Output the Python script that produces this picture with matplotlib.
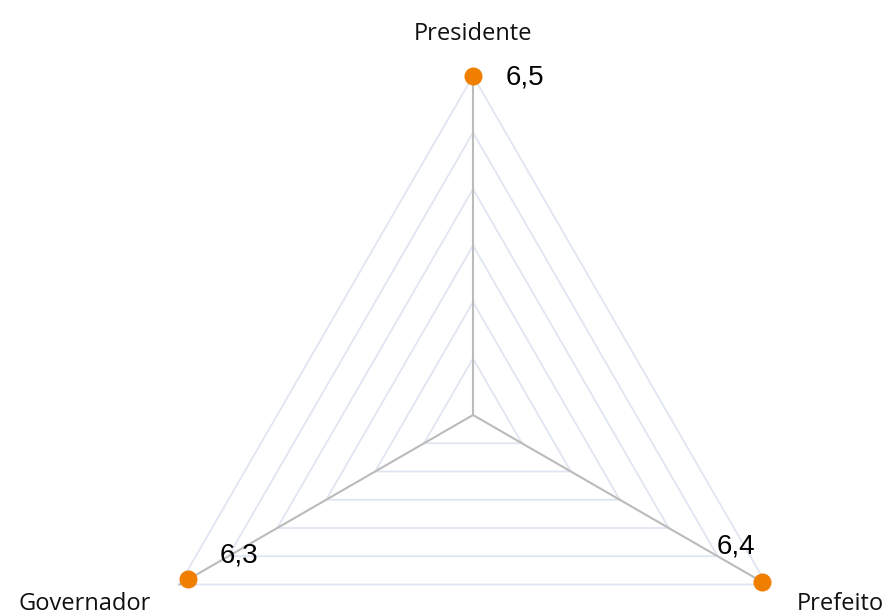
import numpy as np
import matplotlib
matplotlib.use('Agg')
import matplotlib.pyplot as plt

# data
categories = ['Presidente', 'Prefeito', 'Governador']
values = [6.5, 6.4, 6.3]
value_labels = ['6,5', '6,4', '6,3']
max_value = 6.5
n_rings = 6

angles = np.deg2rad([90, -30, 210])

W, H = 885, 611
cx, cy = 473, 415          # centre in pixels
R = 339                    # outer radius in pixels
ppu = R / max_value        # pixels per value unit

fig = plt.figure(figsize=(W / 100, H / 100), dpi=100)
ax = fig.add_axes([0, 0, 1, 1])
ax.set_xlim(-cx / ppu, (W - cx) / ppu)
ax.set_ylim(-(H - cy) / ppu, cy / ppu)
ax.set_axis_off()

grid_color = '#e0e6f1'
axis_color = '#bbbbbb'
orange = '#f07f00'

# polygon rings
for k in range(1, n_rings + 1):
    r = max_value * k / n_rings
    xs = r * np.cos(np.append(angles, angles[0]))
    ys = r * np.sin(np.append(angles, angles[0]))
    ax.plot(xs, ys, color=grid_color, lw=1.3, zorder=1)

# spokes
for a in angles:
    ax.plot([0, max_value * np.cos(a)], [0, max_value * np.sin(a)],
            color=axis_color, lw=1.5, zorder=2)

# points
px = np.array(values) * np.cos(angles)
py = np.array(values) * np.sin(angles)
ax.plot(px, py, 'o', color=orange, markersize=13, markeredgewidth=0, zorder=4)

# category names (offsets in pixels -> points)
cat_offsets = [(0, 42, 'center'), (30, -19, 'left'), (-29, -19, 'right')]
for name, a, (dx, dy, ha) in zip(categories, angles, cat_offsets):
    ax.annotate(name, (max_value * np.cos(a), max_value * np.sin(a)),
                xytext=(dx * 0.72, dy * 0.72), textcoords='offset points',
                ha=ha, va='center', fontsize=17, family='Open Sans',
                color='#111111', annotation_clip=False)

# value labels
val_offsets = [(52, -1), (-26, 35), (50, 24)]
for lab, x, y, (dx, dy) in zip(value_labels, px, py, val_offsets):
    ax.annotate(lab, (x, y), xytext=(dx * 0.72, dy * 0.72),
                textcoords='offset points', ha='center', va='center',
                fontsize=20, family='Liberation Sans', color='black',
                zorder=5, annotation_clip=False)

fig.savefig('out.png', dpi=100)
